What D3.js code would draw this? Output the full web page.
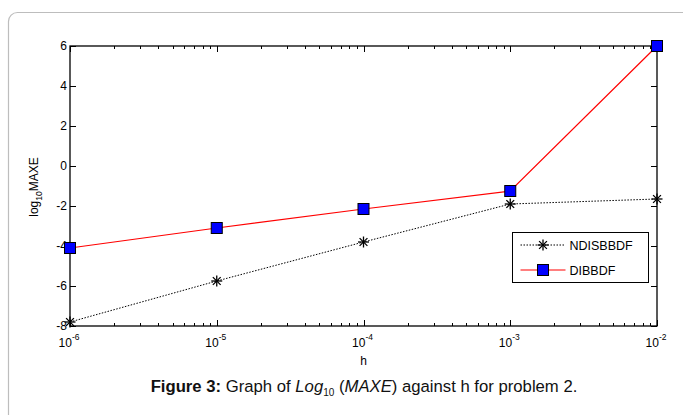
<!DOCTYPE html>
<html>
<head>
<meta charset="utf-8">
<script src="https://cdn.jsdelivr.net/npm/d3@7"></script>
<style>
  body { margin: 0; background: #fff; }
  svg { display: block; font-family: "Liberation Sans", Arial, sans-serif; }
</style>
</head>
<body>
<div id="chart"></div>
<script>
// data
var hValues = [1e-6, 1e-5, 1e-4, 1e-3, 1e-2];
var ndisbbdf = [-7.8, -5.75, -3.8, -1.9, -1.65];
var dibbdf = [-4.1, -3.1, -2.15, -1.25, 6.0];
var yTicks = [-8, -6, -4, -2, 0, 2, 4, 6];
var xTickExps = [-6, -5, -4, -3, -2];

var W = 683, H = 415;
var margin = {top: 46, right: 26, bottom: 89, left: 70};
var iw = W - margin.left - margin.right, ih = H - margin.top - margin.bottom;

var svg = d3.select("#chart").append("svg").attr("width", W).attr("height", H);

// frame of the figure box
svg.append("rect")
  .attr("x", 8.5).attr("y", 12.5).attr("width", 700).attr("height", 430)
  .attr("rx", 9).attr("fill", "none").attr("stroke", "#bdbdbd").attr("stroke-width", 1.2);

var x = d3.scaleLog().domain([1e-6, 1e-2]).range([0, iw]);
var y = d3.scaleLinear().domain([-8, 6]).range([ih, 0]);

var g = svg.append("g").attr("transform", "translate(" + margin.left + "," + margin.top + ")");

// ticks, matlab style (inward, both sides)
var minor = [];
for (var e = -6; e < -2; e++) {
  for (var k = 2; k <= 9; k++) minor.push(k * Math.pow(10, e));
}
var tk = g.append("g").attr("stroke", "#000").attr("stroke-width", 1);
minor.forEach(function(v) {
  var px = Math.round(x(v)) + 0.5;
  tk.append("line").attr("x1", px).attr("x2", px).attr("y1", ih).attr("y2", ih - 3);
  tk.append("line").attr("x1", px).attr("x2", px).attr("y1", 0).attr("y2", 3);
});
xTickExps.forEach(function(e) {
  var px = Math.round(x(Math.pow(10, e))) + 0.5;
  tk.append("line").attr("x1", px).attr("x2", px).attr("y1", ih).attr("y2", ih - 6);
  tk.append("line").attr("x1", px).attr("x2", px).attr("y1", 0).attr("y2", 6);
});
yTicks.forEach(function(v) {
  var py = Math.round(y(v)) + 0.5;
  tk.append("line").attr("x1", 0).attr("x2", 6).attr("y1", py).attr("y2", py);
  tk.append("line").attr("x1", iw).attr("x2", iw - 6).attr("y1", py).attr("y2", py);
});

// axes box
g.append("rect").attr("x", 0).attr("y", 0).attr("width", iw).attr("height", ih)
  .attr("fill", "none").attr("stroke", "#000").attr("stroke-width", 1.3);

// y tick labels
g.selectAll(".ylab").data(yTicks).enter().append("text")
  .attr("x", -3).attr("y", function(d) { return y(d) + 4; })
  .attr("text-anchor", "end").attr("font-size", 12).text(function(d) { return d; });

// x tick labels 10^e
var xl = g.selectAll(".xlab").data(xTickExps).enter().append("text")
  .attr("x", function(d) { return x(Math.pow(10, d)) - 1; })
  .attr("y", ih + 21).attr("text-anchor", "middle").attr("font-size", 12);
xl.append("tspan").text("10");
xl.append("tspan").attr("dy", -7).attr("font-size", 8.5).text(function(d) { return d; });

// axis labels
g.append("text").attr("x", x(1e-4)).attr("y", ih + 39).attr("text-anchor", "middle")
  .attr("font-size", 12).text("h");
var yl = g.append("text").attr("transform", "translate(-32," + y(-1.05) + ") rotate(-90)")
  .attr("text-anchor", "middle").attr("font-size", 12);
yl.append("tspan").text("log");
yl.append("tspan").attr("dy", 4).attr("font-size", 8.5).text("10");
yl.append("tspan").attr("dy", -4).text("MAXE");

// lines
var line = d3.line().x(function(d) { return x(d[0]); }).y(function(d) { return y(d[1]); });
var s1 = d3.zip(hValues, ndisbbdf), s2 = d3.zip(hValues, dibbdf);

g.append("path").datum(s1).attr("d", line).attr("fill", "none")
  .attr("stroke", "#000").attr("stroke-width", 1).attr("stroke-dasharray", "1.5,1.5");
g.append("path").datum(s2).attr("d", line).attr("fill", "none")
  .attr("stroke", "#ff0000").attr("stroke-width", 1.2);

function star(sel, cx, cy, r) {
  var gg = sel.append("g").attr("stroke", "#000").attr("stroke-width", 1.3);
  [0, 45, 90, 135].forEach(function(a) {
    var rad = a * Math.PI / 180;
    gg.append("line").attr("x1", cx - r * Math.cos(rad)).attr("y1", cy - r * Math.sin(rad))
      .attr("x2", cx + r * Math.cos(rad)).attr("y2", cy + r * Math.sin(rad));
  });
}
function square(sel, cx, cy, s) {
  sel.append("rect").attr("x", cx - s / 2).attr("y", cy - s / 2).attr("width", s).attr("height", s)
    .attr("fill", "#0000ff").attr("stroke", "#000").attr("stroke-width", 1);
}
s1.forEach(function(d) { star(g, x(d[0]), y(d[1]), 5.5); });
s2.forEach(function(d) { square(g, x(d[0]), y(d[1]), 11); });

// legend
var lg = svg.append("g").attr("transform", "translate(512.5,232.5)");
lg.append("rect").attr("width", 136).attr("height", 50).attr("fill", "#fff")
  .attr("stroke", "#000").attr("stroke-width", 1);
lg.append("line").attr("x1", 8).attr("x2", 53).attr("y1", 12.5).attr("y2", 12.5)
  .attr("stroke", "#000").attr("stroke-dasharray", "1.5,1.5");
star(lg, 30.5, 12.5, 5.5);
lg.append("line").attr("x1", 8).attr("x2", 53).attr("y1", 37.5).attr("y2", 37.5)
  .attr("stroke", "#ff0000").attr("stroke-width", 1.2);
square(lg, 30.5, 37.5, 11);
lg.append("text").attr("x", 57).attr("y", 17).attr("font-size", 12.5).text("NDISBBDF");
lg.append("text").attr("x", 57).attr("y", 42).attr("font-size", 12.5).text("DIBBDF");

// caption
var cap = svg.append("text").attr("x", 364).attr("y", 392).attr("text-anchor", "middle")
  .attr("font-size", 16.7).attr("fill", "#111");
cap.append("tspan").attr("font-weight", "bold").text("Figure 3:");
cap.append("tspan").text(" Graph of ");
cap.append("tspan").attr("font-style", "italic").text("Log");
cap.append("tspan").attr("dy", 4).attr("font-size", 10).text("10");
cap.append("tspan").attr("dy", -4).text(" (");
cap.append("tspan").attr("font-style", "italic").text("MAXE");
cap.append("tspan").text(") against h for problem 2.");
</script>
</body>
</html>
